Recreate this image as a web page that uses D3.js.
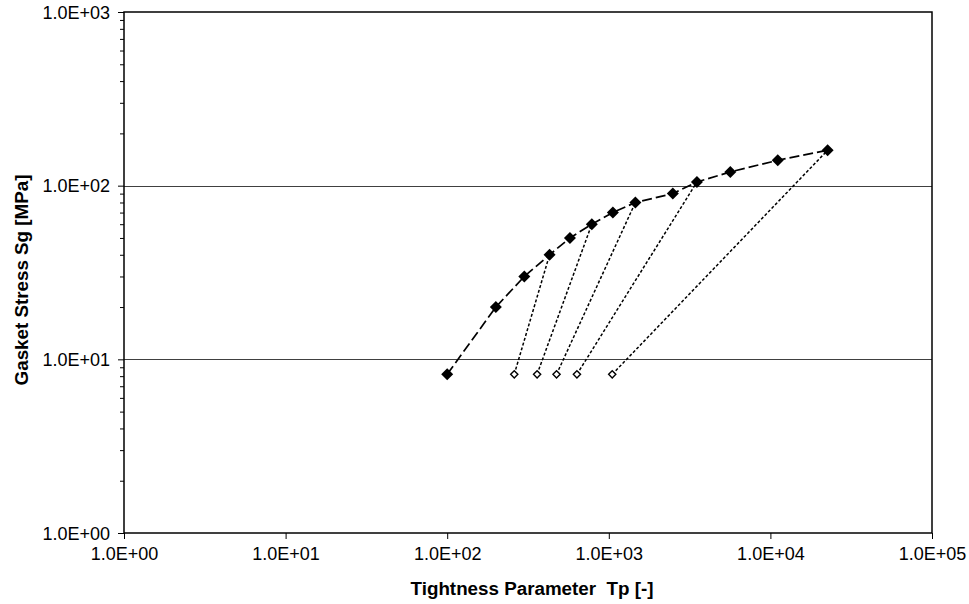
<!DOCTYPE html>
<html>
<head>
<meta charset="utf-8">
<script src="https://cdn.jsdelivr.net/npm/d3@7"></script>
<style>
body { margin: 0; background: #fff; }
svg { display: block; font-family: "Liberation Sans", Arial, sans-serif; }
.tick-label { font-size: 18px; fill: #000; }
.axis-title { font-size: 18.8px; font-weight: bold; fill: #000; }
.grid { stroke: #404040; stroke-width: 1; }
.frame { fill: none; stroke: #000; stroke-width: 1.5; }
.load { fill: none; stroke: #000; stroke-width: 1.7; stroke-dasharray: 10,4; }
.unload { fill: none; stroke: #000; stroke-width: 1.5; stroke-dasharray: 3,2; }
</style>
</head>
<body>
<svg id="chart" width="969" height="604"></svg>
<script>
// loading curve (filled diamonds)
var tpLoad = [100, 200, 300, 430, 575, 785, 1060, 1460, 2490, 3510, 5650, 11100, 22600];
var sgLoad = [8.2, 20, 30, 40, 50, 60, 70, 80, 90, 105, 120, 140, 160];

// unloading lines: from a point on the loading curve down to an open diamond
var unloadFromTp = [430, 785, 1460, 3510, 22600];
var unloadFromSg = [40, 60, 80, 105, 160];
var unloadToTp = [260, 360, 475, 635, 1050];
var unloadToSg = [8.2, 8.2, 8.2, 8.2, 8.2];

var xTicks = [1, 10, 100, 1000, 10000, 100000];
var yTicks = [1, 10, 100, 1000];
var gridValues = [10, 100];

var svg = d3.select("#chart");
var plotL = 124, plotR = 932, plotT = 12, plotB = 533;

var x = d3.scaleLog().domain([1, 1e5]).range([plotL, plotR]);
var y = d3.scaleLog().domain([1, 1e3]).range([plotB, plotT]);

function sci(d) {
    var e = Math.round(Math.log10(d));
    return "1.0E+" + String(e).padStart(2, "0");
}

// gridlines
svg.selectAll(".grid")
    .data(gridValues)
    .enter().append("line")
    .attr("class", "grid")
    .attr("x1", plotL).attr("x2", plotR)
    .attr("y1", function(d) { return Math.round(y(d)) + 0.5; })
    .attr("y2", function(d) { return Math.round(y(d)) + 0.5; });

// y axis with minor ticks
var yMinor = [];
[1, 10, 100].forEach(function(b) {
    for (var k = 2; k <= 9; k++) yMinor.push(b * k);
});

var yAxis = d3.axisLeft(y).tickValues(yTicks).tickSize(6).tickFormat(sci);
var gy = svg.append("g").attr("transform", "translate(" + plotL + ",0)").call(yAxis);
gy.select(".domain").remove();
gy.selectAll("line").attr("stroke", "#000");
gy.selectAll("text").attr("class", "tick-label").attr("x", -14).attr("dy", "0.35em");

var gyMinor = svg.append("g").attr("transform", "translate(" + plotL + ",0)")
    .call(d3.axisLeft(y).tickValues(yMinor).tickSize(4).tickFormat(""));
gyMinor.select(".domain").remove();
gyMinor.selectAll("line").attr("stroke", "#000");

// x axis
var xAxis = d3.axisBottom(x).tickValues(xTicks).tickSize(6).tickFormat(sci);
var gx = svg.append("g").attr("transform", "translate(0," + plotB + ")").call(xAxis);
gx.select(".domain").remove();
gx.selectAll("line").attr("stroke", "#000");
gx.selectAll("text").attr("class", "tick-label").attr("y", 14).attr("dy", "0.71em");

// frame
svg.append("rect")
    .attr("class", "frame")
    .attr("x", plotL).attr("y", plotT)
    .attr("width", plotR - plotL).attr("height", plotB - plotT);

// unloading lines
svg.selectAll(".unload")
    .data(unloadFromTp)
    .enter().append("line")
    .attr("class", "unload")
    .attr("x1", function(d, i) { return x(unloadToTp[i]); })
    .attr("y1", function(d, i) { return y(unloadToSg[i]); })
    .attr("x2", function(d) { return x(d); })
    .attr("y2", function(d, i) { return y(unloadFromSg[i]); });

// loading curve
var line = d3.line()
    .x(function(d) { return x(d); })
    .y(function(d, i) { return y(sgLoad[i]); });

svg.append("path")
    .datum(tpLoad)
    .attr("class", "load")
    .attr("d", line);

function diamond(r) {
    return "M0," + (-r) + "L" + r + ",0L0," + r + "L" + (-r) + ",0Z";
}

svg.selectAll(".filled")
    .data(tpLoad)
    .enter().append("path")
    .attr("class", "filled")
    .attr("d", diamond(6))
    .attr("fill", "#000")
    .attr("transform", function(d, i) { return "translate(" + x(d) + "," + y(sgLoad[i]) + ")"; });

svg.selectAll(".open")
    .data(unloadToTp)
    .enter().append("path")
    .attr("class", "open")
    .attr("d", diamond(3.6))
    .attr("fill", "#fff")
    .attr("stroke", "#000")
    .attr("stroke-width", 1.4)
    .attr("transform", function(d, i) { return "translate(" + x(d) + "," + y(unloadToSg[i]) + ")"; });

// axis titles
svg.append("text")
    .attr("class", "axis-title")
    .attr("x", 532).attr("y", 595)
    .attr("text-anchor", "middle")
    .attr("xml:space", "preserve")
    .text("Tightness Parameter  Tp [-]");

svg.append("text")
    .attr("class", "axis-title")
    .attr("transform", "translate(28,280) rotate(-90)")
    .attr("text-anchor", "middle")
    .text("Gasket Stress Sg [MPa]");
</script>
</body>
</html>
